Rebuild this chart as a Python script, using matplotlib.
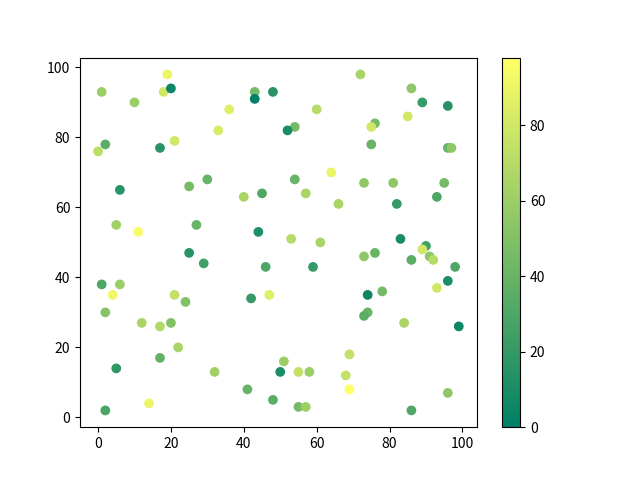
import matplotlib
matplotlib.use('Agg')
import matplotlib.pyplot as plt

plt.rcParams['font.family'] = ['Noto Sans CJK SC', 'DejaVu Sans']

# point positions and colour values
x_vals = [1, 0, 2, 10, 19, 18, 20, 17, 21, 36, 33, 43, 43, 48, 6, 25, 30, 40, 45, 5,
          27, 11, 25, 29, 44, 46, 1, 6, 4, 2, 12, 17, 20, 21, 24, 22, 17, 5, 14, 2,
          32, 41, 42, 47, 48,
          72, 86, 89, 96, 60, 85, 76, 75, 54, 52, 75, 96, 97, 64, 54, 57, 73, 81, 95, 66,
          82, 93, 53, 61, 83, 90, 89, 91, 92, 86, 76, 73, 59, 98, 96, 93, 74, 78, 74, 73,
          84, 99, 69, 51, 50, 55, 58, 68, 69, 96, 55, 57, 86]
y_vals = [93, 76, 78, 90, 98, 93, 94, 77, 79, 88, 82, 93, 91, 93, 65, 66, 68, 63, 64, 55,
          55, 53, 47, 44, 53, 43, 38, 38, 35, 30, 27, 26, 27, 35, 33, 20, 17, 14, 4, 2,
          13, 8, 34, 35, 5,
          98, 94, 90, 89, 88, 86, 84, 83, 83, 82, 78, 77, 77, 70, 68, 64, 67, 67, 67, 61,
          61, 63, 51, 50, 51, 49, 48, 46, 45, 45, 47, 46, 43, 43, 39, 37, 35, 36, 30, 29,
          27, 26, 18, 16, 13, 13, 13, 12, 8, 7, 3, 3, 2]
c_vals = [60, 72, 35, 60, 90, 80, 5, 15, 80, 85, 82, 45, 0, 15, 15, 45, 40, 65, 30, 62,
          40, 95, 15, 25, 12, 30, 30, 60, 92, 52, 65, 68, 50, 75, 50, 65, 38, 18, 90, 28,
          62, 40, 20, 85, 35,
          65, 55, 20, 15, 70, 80, 45, 80, 45, 10, 40, 40, 55, 90, 40, 65, 55, 55, 45, 65,
          20, 30, 70, 65, 10, 25, 80, 55, 70, 35, 40, 55, 20, 30, 10, 80, 5, 45, 40, 35,
          65, 5, 75, 60, 10, 75, 60, 75, 98, 55, 45, 60, 30]

fig, ax = plt.subplots(figsize=(6.4, 4.8), dpi=100)
sc = ax.scatter(x_vals, y_vals, c=c_vals, cmap='summer')
fig.colorbar(sc, ax=ax)

fig.savefig('out.png', dpi=100)
